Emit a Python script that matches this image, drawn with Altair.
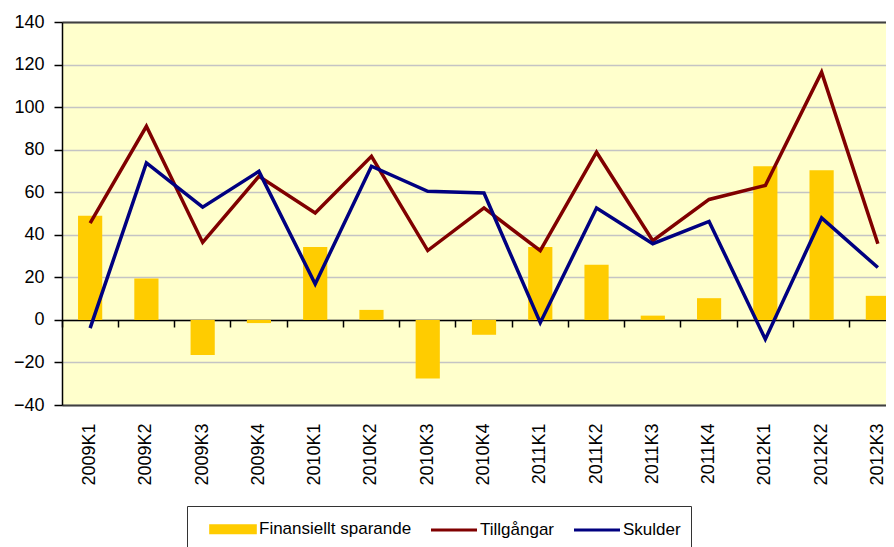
import altair as alt
import pandas as pd

quarters = ["2009K1", "2009K2", "2009K3", "2009K4", "2010K1", "2010K2", "2010K3", "2010K4",
            "2011K1", "2011K2", "2011K3", "2011K4", "2012K1", "2012K2", "2012K3"]
sparande = [49, 19.5, -16.5, -1.5, 34.2, 4.7, -27.5, -7, 34.2, 25.9, 2, 10.2, 72.2, 70.3, 11.3]
tillgangar = [45.5, 91, 36.4, 67.5, 50.2, 76.9, 32.6, 52.6, 32.5, 78.8, 37.2, 56.6, 63.2, 116.4, 35.8]
skulder = [-3.9, 73.8, 53, 69.8, 16.9, 72.2, 60.4, 59.6, -1.3, 52.6, 35.8, 46.3, -9.1, 47.9, 24.6]

series_names = ["Finansiellt sparande", "Tillgångar", "Skulder"]
series_colors = ["#FFCC00", "#800000", "#000080"]
y_ticks = [-40, -20, 0, 20, 40, 60, 80, 100, 120, 140]

rows = []
for q, a, b, c in zip(quarters, sparande, tillgangar, skulder):
    rows.append({"q": q, "series": series_names[0], "v": a})
    rows.append({"q": q, "series": series_names[1], "v": b})
    rows.append({"q": q, "series": series_names[2], "v": c})
df = pd.DataFrame(rows)

FONT = "Liberation Sans"

xscale = alt.Scale(domain=quarters, range=[0, 844], paddingInner=0, paddingOuter=0)
yscale = alt.Scale(domain=[-40, 140], nice=False, zero=False)

y_axis = alt.Axis(values=y_ticks, title=None, domainColor="#000000", domainWidth=1.5,
                  tickColor="#000000", tickWidth=1.5, tickSize=8, labelPadding=10,
                  labelFont=FONT, labelFontSize=18, labelColor="#000000",
                  gridColor="#C4C4C4", gridWidth=1.5)
y_enc = alt.Y("v:Q", scale=yscale, axis=y_axis)

sym_bar = "M0.06,-0.3H3.94V0.3H0.06Z"
sym_line = "M0,0H4"
legend = alt.Legend(
    title=None, orient="none", legendX=125, legendY=484, direction="horizontal", columns=3,
    padding=10, strokeColor="#333333", fillColor="#FFFFFF", symbolSize=529,
    symbolType=alt.ExprRef(expr="datum.value === 'Finansiellt sparande' ? '%s' : '%s'" % (sym_bar, sym_line)),
    symbolFillColor=alt.ExprRef(expr="scale('color', datum.value)"),
    symbolStrokeColor=alt.ExprRef(expr="scale('color', datum.value)"),
    symbolStrokeWidth=3, symbolOpacity=1,
    labelFont=FONT, labelFontSize=17, labelColor="#000000", labelOffset=36, columnPadding=6,
)
color_enc = alt.Color("series:N", scale=alt.Scale(domain=series_names, range=series_colors), legend=legend)

base = alt.Chart(df)

bars = base.transform_filter(alt.datum.series == series_names[0]).mark_bar(
    width=alt.RelativeBandSize(0.43)
).encode(
    x=alt.X("q:N", scale=xscale, sort=quarters,
            axis=alt.Axis(title=None, orient="bottom", labelAngle=-90, labelPadding=18, ticks=False,
                          tickSize=0, domainColor="#404040", domainWidth=2, labelFont=FONT,
                          labelFontSize=18, labelColor="#000000", grid=False)),
    y=y_enc,
    color=color_enc,
)

line_t = base.transform_filter(alt.datum.series == series_names[1]).mark_line(strokeWidth=3.5).encode(
    x=alt.X("q:N", scale=xscale, sort=quarters,
            axis=alt.Axis(title=None, orient="bottom", offset=-85, labels=False, ticks=True,
                          bandPosition=0, tickSize=7, tickWidth=1.5, tickColor="#000000",
                          domainColor="#000000", domainWidth=1.5, grid=False)),
    y=y_enc,
    color=color_enc,
)

line_s = base.transform_filter(alt.datum.series == series_names[2]).mark_line(strokeWidth=3.5).encode(
    x=alt.X("q:N", scale=xscale, sort=quarters,
            axis=alt.Axis(title=None, orient="top", labels=False, ticks=False, tickSize=0,
                          domainColor="#404040", domainWidth=2, grid=False)),
    y=y_enc,
    color=color_enc,
)

chart = alt.layer(bars, line_t, line_s).resolve_axis(x="independent").properties(
    width=824, height=383,
    autosize=alt.AutoSizeParams(type="none"),
    padding={"left": 54, "top": 14, "right": 0, "bottom": 142},
    background="#FFFFFF",
).configure_view(fill="#FFFFCC", stroke=None)

chart.save("out.html", embed_options={"renderer": "svg", "actions": False})
